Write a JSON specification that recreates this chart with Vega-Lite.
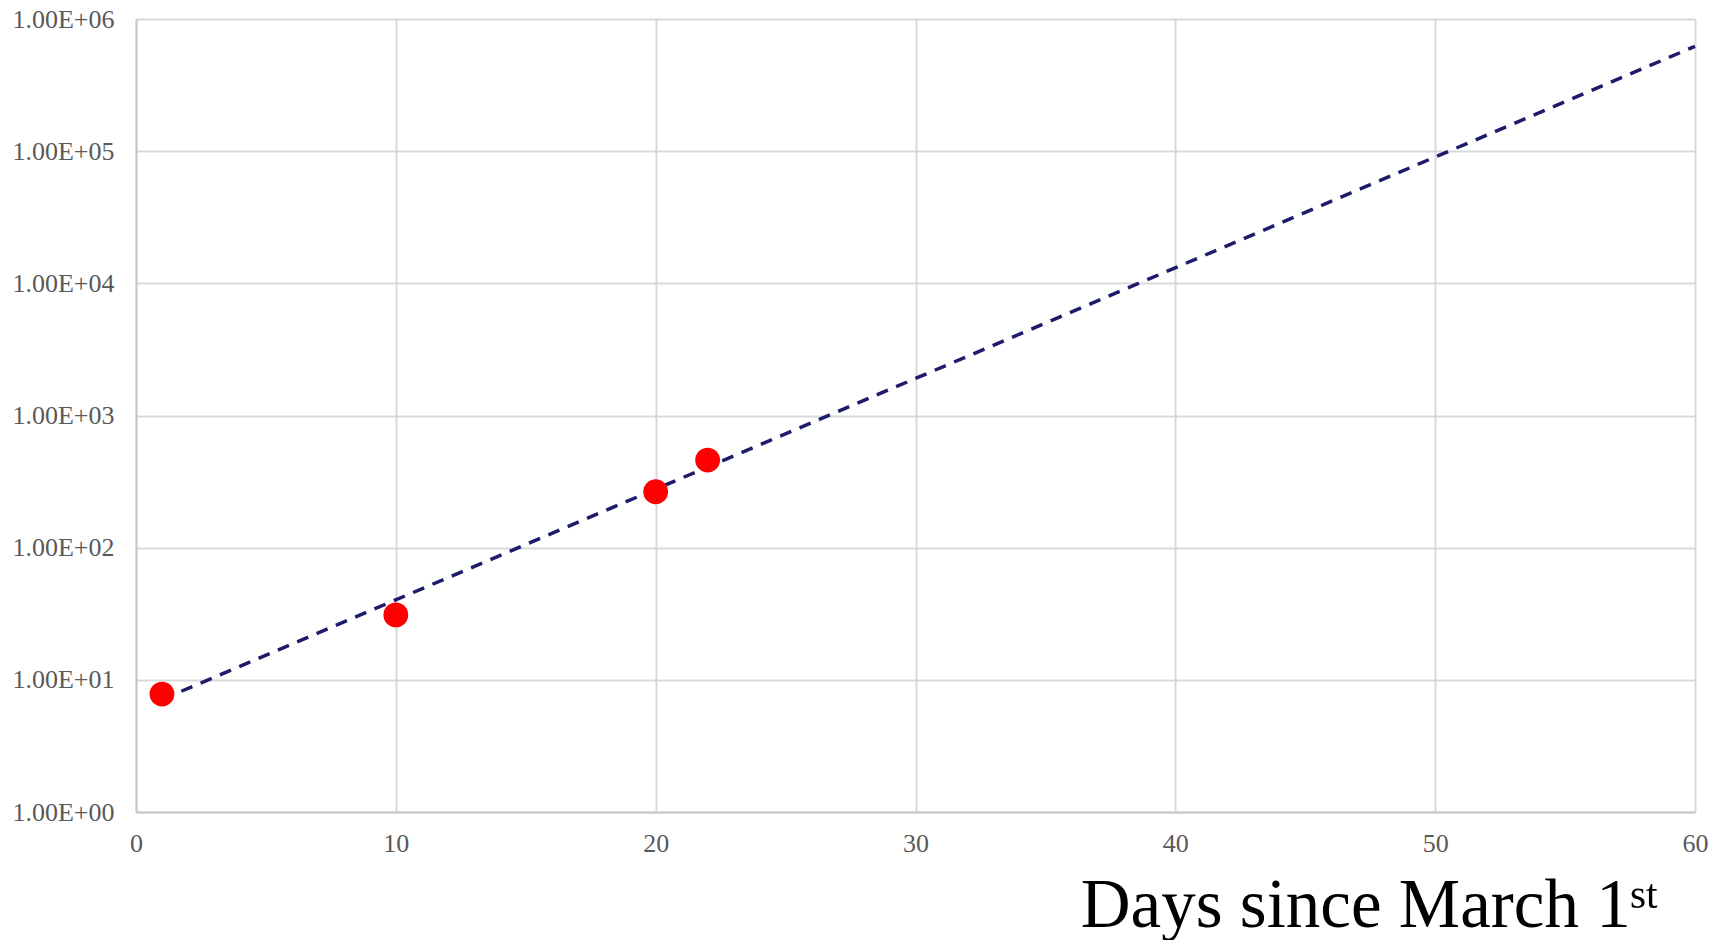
{
  "$schema": "https://vega.github.io/schema/vega-lite/v6.json",
  "width": 1559,
  "height": 793,
  "autosize": {"type": "none"},
  "padding": {"left": 136, "top": 19, "right": 29, "bottom": 128},
  "background": "white",
  "config": {
    "view": {"stroke": null},
    "font": "Liberation Serif"
  },
  "datasets": {
    "cases": [
      {"day": 1, "cases": 7.8},
      {"day": 10, "cases": 31},
      {"day": 20, "cases": 265},
      {"day": 22, "cases": 460}
    ],
    "trend": [
      {"day": 1, "fit": 7.1},
      {"day": 60, "fit": 621000}
    ]
  },
  "layer": [
    {
      "data": {"name": "trend"},
      "mark": {"type": "line", "color": "#1c1c6b", "strokeWidth": 3.5, "strokeDash": [12, 9], "clip": false},
      "encoding": {
        "x": {
          "field": "day", "type": "quantitative",
          "scale": {"domain": [0, 60], "nice": false, "zero": false},
          "axis": {
            "values": [0, 10, 20, 30, 40, 50, 60],
            "grid": true, "gridColor": "#d9d9d9", "gridWidth": 2,
            "domainColor": "#c8c8c8", "domainWidth": 2,
            "ticks": false, "labelPadding": 18, "labelFlush": false,
            "labelFont": "Liberation Serif", "labelFontSize": 26, "labelColor": "#595959",
            "title": "Days since March 1ˢᵗ",
            "titleFont": "Liberation Serif", "titleFontSize": 69, "titleFontWeight": "normal",
            "titleColor": "#000000",
            "titleAnchor": "end", "titleAlign": "right", "titleBaseline": "alphabetic",
            "titleX": 1522, "titleY": 114
          }
        },
        "y": {
          "field": "fit", "type": "quantitative",
          "scale": {"type": "log", "domain": [1, 1000000], "nice": false},
          "axis": {
            "values": [1, 10, 100, 1000, 10000, 100000, 1000000],
            "labelExpr": "'1.00E+0' + format(log(datum.value) / LN10, '.0f')",
            "grid": true, "gridColor": "#d9d9d9", "gridWidth": 2,
            "domainColor": "#c8c8c8", "domainWidth": 2,
            "ticks": false, "labelPadding": 22, "labelFlush": false,
            "labelFont": "Liberation Serif", "labelFontSize": 26, "labelColor": "#595959",
            "title": null
          }
        }
      }
    },
    {
      "data": {"name": "cases"},
      "mark": {"type": "point", "filled": true, "color": "#ff0000", "opacity": 1, "size": 616},
      "encoding": {
        "x": {"field": "day", "type": "quantitative"},
        "y": {"field": "cases", "type": "quantitative"}
      }
    }
  ]
}
